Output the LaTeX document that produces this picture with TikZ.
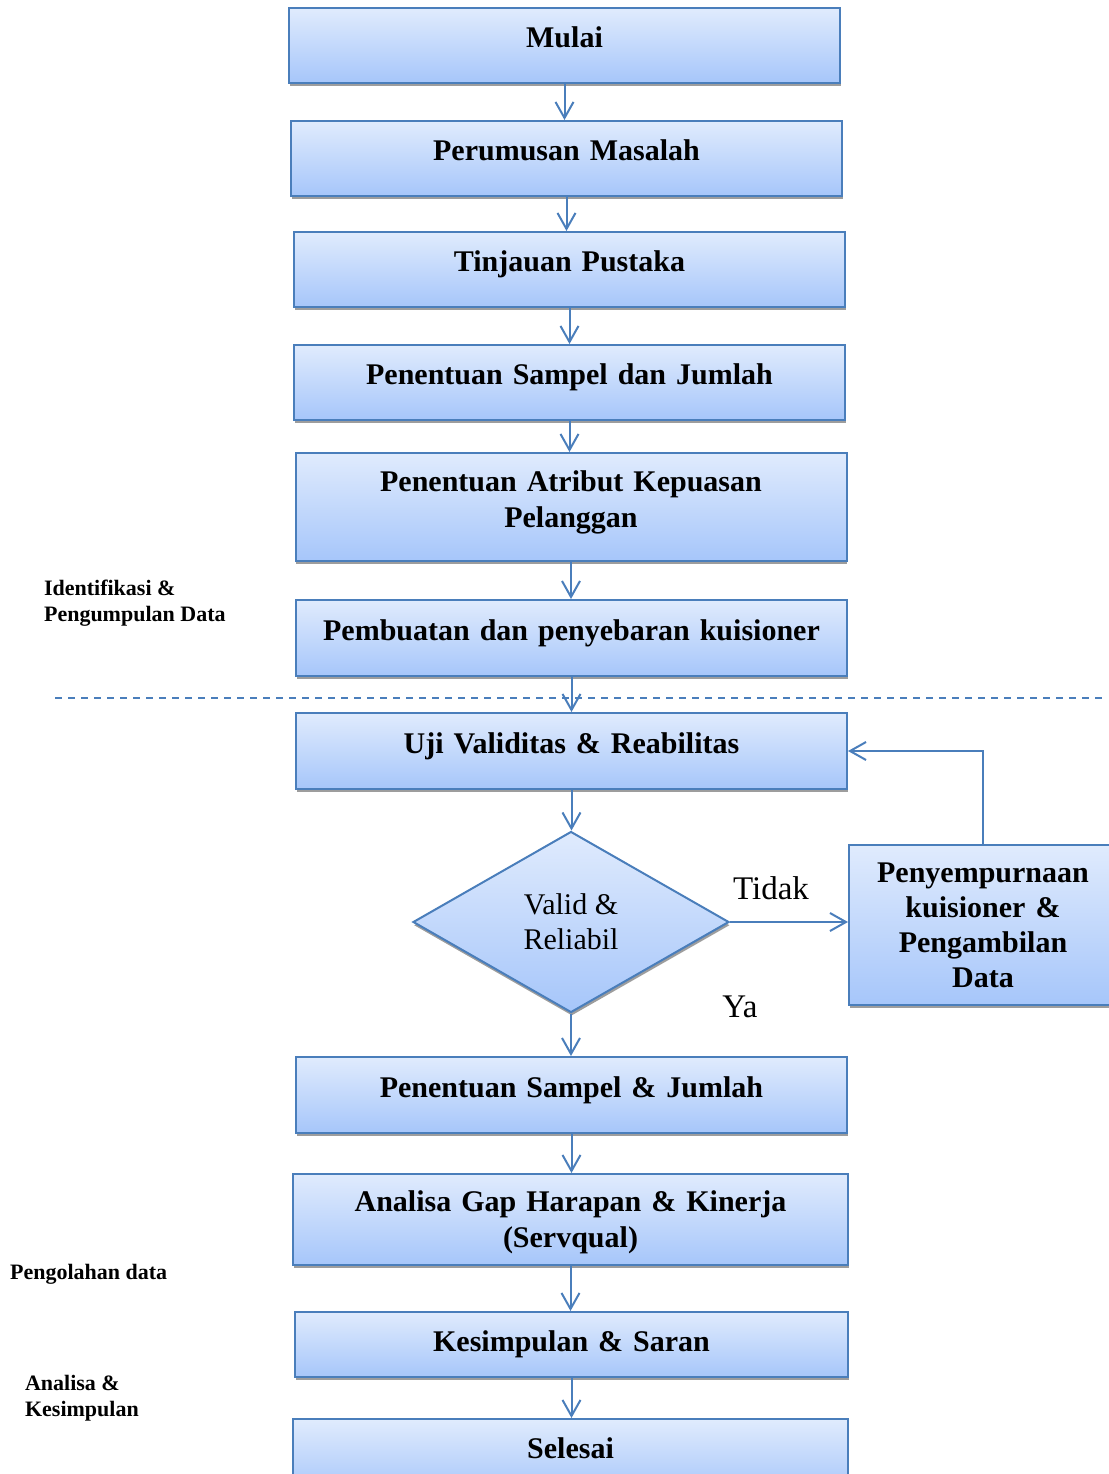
\documentclass[tikz,border=0pt]{standalone}
\usepackage{fontspec}
\setmainfont{Liberation Serif}
\usetikzlibrary{shapes.geometric,arrows.meta,shadows}
\definecolor{garis}{HTML}{4A7EBB}
\definecolor{atas}{HTML}{E0EBFD}
\definecolor{bawah}{HTML}{A6C6FA}
\tikzset{
  kotak/.style={draw=garis, line width=1pt, top color=atas, bottom color=bawah,
    minimum width=275.5pt, minimum height=37.5pt, inner sep=2pt, text width=262pt,
    align=center, font=\bfseries\fontsize{15}{18}\selectfont,
    drop shadow={shadow xshift=0.4pt, shadow yshift=-1.6pt, fill=black!55, opacity=0.7}},
  naik/.style={text height=11pt, text depth=9pt},
  panah/.style={draw=garis, line width=1pt, -{Straight Barb[length=8pt,width=9pt]}},
  ket/.style={font=\bfseries\fontsize{11}{13}\selectfont, align=left, anchor=west},
  jawab/.style={font=\fontsize{16.5}{19}\selectfont},
}
\begin{document}
\begin{tikzpicture}[x=0.5pt,y=-0.5pt]
\useasboundingbox (0,0) rectangle (1109,1474);
% alur utama
\node[kotak,naik] (mulai) at (564.5,45.5) {Mulai};
\node[kotak,naik] (rumus) at (566.5,158.5) {Perumusan Masalah};
\node[kotak,naik] (tinjau) at (569.5,269.5) {Tinjauan Pustaka};
\node[kotak,naik] (sampel) at (569.5,382.5) {Penentuan Sampel dan Jumlah};
\node[kotak,minimum height=54pt,text height=10pt,text depth=26pt] (atribut) at (571,507) {Penentuan Atribut Kepuasan\\Pelanggan};
\node[kotak,naik,minimum height=38pt] (kuis) at (571.5,638) {Pembuatan dan penyebaran kuisioner};
\node[kotak,naik,minimum height=38pt] (uji) at (571.5,751) {Uji Validitas \& Reabilitas};
\node[diamond, draw=garis, line width=1pt, top color=atas, bottom color=bawah,
  minimum width=158pt, minimum height=90.5pt, inner sep=0pt, align=center,
  font=\fontsize{15}{17.5}\selectfont,
  drop shadow={shadow xshift=0.4pt, shadow yshift=-1.6pt, fill=black!55, opacity=0.7}]
  (valid) at (571,922) {Valid \&\\Reliabil};
\node[kotak, minimum width=134pt, minimum height=80pt, text width=126pt,
  font=\bfseries\fontsize{15}{17.5}\selectfont] (perbaikan) at (983,925)
  {Penyempurnaan\\kuisioner \&\\Pengambilan\\Data};
\node[kotak,naik,minimum height=38pt] (jumlah) at (571.5,1095) {Penentuan Sampel \& Jumlah};
\node[kotak,minimum width=277.5pt,minimum height=45.5pt,text height=10pt,text depth=18pt] (gap) at (570.5,1219.5) {Analisa Gap Harapan \& Kinerja\\(Servqual)};
\node[kotak,minimum width=276.5pt,minimum height=32.5pt] (simpul) at (571.5,1344.5) {Kesimpulan \& Saran};
\node[kotak,naik,minimum width=277.5pt] (selesai) at (570.5,1456.5) {Selesai};
% panah
\foreach \a/\b in {mulai/rumus,rumus/tinjau,tinjau/sampel,sampel/atribut,atribut/kuis,
  kuis/uji,uji/valid,valid/jumlah,jumlah/gap,gap/simpul,simpul/selesai}
  \draw[panah] (\a.south) -- (\a.south |- \b.north);
\draw[panah] (valid.east) -- (valid.east -| perbaikan.west);
\draw[panah] (perbaikan.north) |- (uji.east);
\node[jawab] (tidak) at (771,888) {Tidak};
\node[jawab] (ya) at (740,1007) {Ya};
% batas tahap
\coordinate (g1) at (55,698);
\coordinate (g2) at (1103,698);
\draw[garis, line width=0.8pt, dash pattern=on 3.5pt off 3pt] (g1) -- (g2);
\node[ket] (tahap1) at (37,603) {Identifikasi \&\\Pengumpulan Data};
\node[ket] (tahap2) at (3,1274) {Pengolahan data};
\node[ket] (tahap3) at (18,1398) {Analisa \&\\Kesimpulan};
\end{tikzpicture}
\end{document}
